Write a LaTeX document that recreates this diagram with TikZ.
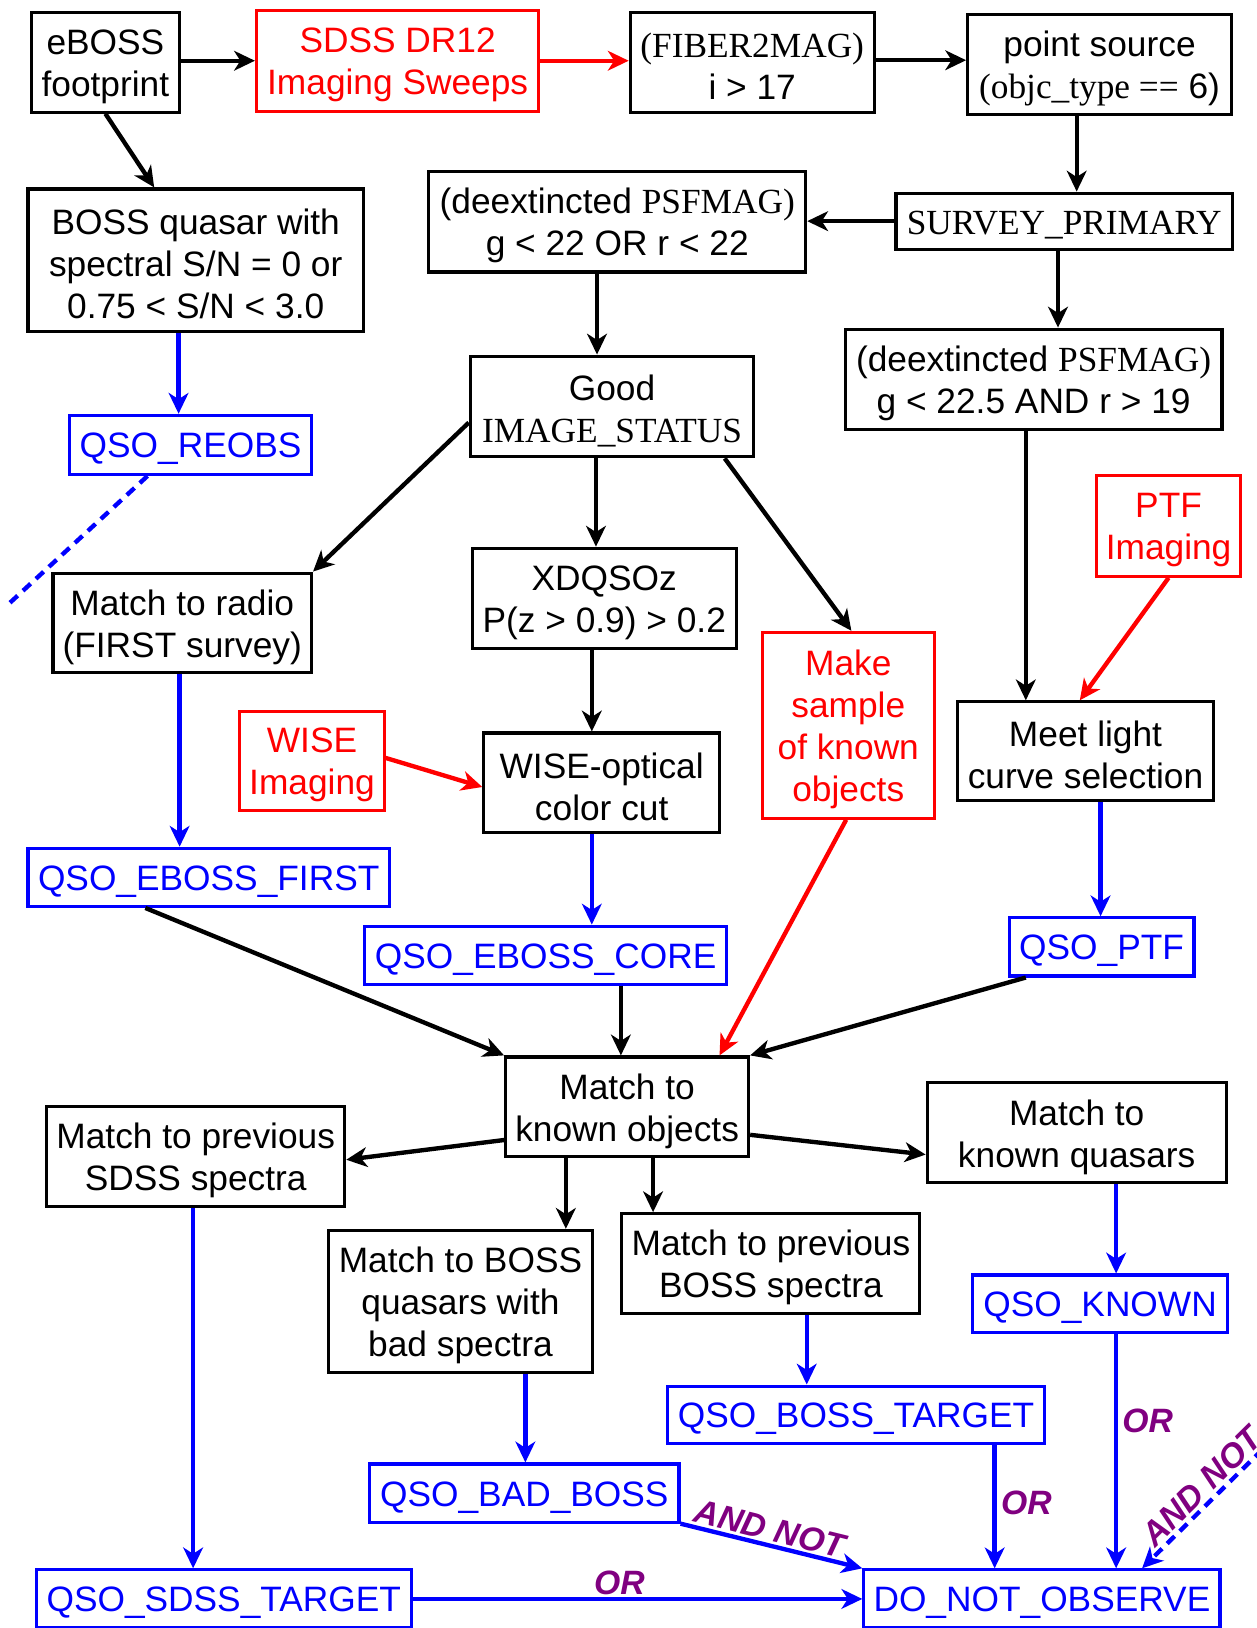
\documentclass[tikz,border=0pt]{standalone}
\usepackage{fontspec}
\setmainfont{Liberation Sans}
\newfontfamily\tm{Liberation Serif}
\usetikzlibrary{arrows.meta}
\definecolor{lblpurple}{RGB}{128,0,128}
\begin{document}
\begin{tikzpicture}[x=1pt,y=-1pt,
  txt/.style={align=center,inner sep=0pt,yshift=-4pt,
    font=\fontsize{34}{40.5}\selectfont},
  bx/.style={draw=black,line width=3pt,inner sep=0pt,
    label={[txt,text=black]center:{#1}}},
  rbx/.style={draw=red,line width=3pt,inner sep=0pt,
    label={[txt,text=red]center:{#1}}},
  bbx/.style={draw=blue,line width=3pt,inner sep=0pt,
    label={[txt,text=blue]center:{#1}}},
  arr/.style={line width=4.2pt,-{Stealth[length=20pt,width=19pt,inset=6pt]}},
  karr/.style={arr,draw=black},
  rarr/.style={arr,draw=red},
  barr/.style={arr,draw=blue},
  dashblue/.style={draw=blue,line width=4.2pt,dash pattern=on 10pt off 7pt},
  lbl/.style={text=lblpurple,font=\fontsize{32.5}{36}\selectfont\bfseries\itshape,inner sep=2pt}
]
\useasboundingbox (0,0) rectangle (1210,1568);

% nodes
\node[bx={eBOSS\\footprint},minimum width=143pt,minimum height=96pt] (eboss) at (101.5,60) {};
\node[rbx={SDSS DR12\\Imaging Sweeps},minimum width=272pt,minimum height=97pt] (sdss) at (383,58.5) {};
\node[bx={{\tm (FIBER2MAG)}\\i > 17},minimum width=235pt,minimum height=96pt] (fiber) at (724.5,60) {};
\node[bx={point source\\{\tm (objc\_type ==} 6)},minimum width=254pt,minimum height=96pt] (point) at (1059,62) {};
\node[bx={BOSS quasar with\\spectral S/N = 0 or\\0.75 < S/N < 3.0},minimum width=323pt,minimum height=137pt] (bossq) at (188.5,250.5) {};
\node[bx={(deextincted {\tm PSFMAG)}\\g < 22 OR r < 22},minimum width=363pt,minimum height=97pt] (deexa) at (594.5,213.5) {};
\node[bx={\tm SURVEY\_PRIMARY},minimum width=324pt,minimum height=54pt] (survey) at (1025,213) {};
\node[bx={Good\\{\tm IMAGE\_STATUS}},minimum width=273pt,minimum height=97pt] (good) at (589.5,391.5) {};
\node[bx={(deextincted {\tm PSFMAG)}\\g < 22.5 AND r > 19},minimum width=363pt,minimum height=97pt] (deexb) at (995.5,365.5) {};
\node[bbx={QSO\_REOBS},minimum width=233pt,minimum height=57pt] (reobs) at (183.5,428.5) {};
\node[bx={Match to radio\\(FIRST survey)},minimum width=249pt,minimum height=96pt] (radio) at (175.5,600) {};
\node[bx={XDQSOz\\P(z > 0.9) > 0.2},minimum width=254pt,minimum height=97pt] (xdqso) at (582,576.5) {};
\node[rbx={PTF\\Imaging},minimum width=139pt,minimum height=97pt] (ptf) at (1125.5,506.5) {};
\node[rbx={Make\\sample\\of known\\objects},minimum width=166pt,minimum height=179pt] (make) at (817,698.5) {};
\node[bx={Meet light\\curve selection},minimum width=247pt,minimum height=95pt] (meet) at (1045.5,723.5) {};
\node[rbx={WISE\\Imaging},minimum width=139pt,minimum height=96pt] (wiseimg) at (300.5,733) {};
\node[bx={WISE-optical\\color cut},minimum width=227pt,minimum height=96pt] (wiseopt) at (579.5,754) {};
\node[bbx={QSO\_EBOSS\_FIRST},minimum width=348pt,minimum height=56pt] (first) at (201,845) {};
\node[bbx={QSO\_EBOSS\_CORE},minimum width=349pt,minimum height=56pt] (core) at (525.5,920) {};
\node[bbx={QSO\_PTF},minimum width=178pt,minimum height=56pt] (qptf) at (1061,912) {};
\node[bx={Match to\\known objects},minimum width=234pt,minimum height=96pt] (mknown) at (604,1066) {};
\node[bx={Match to previous\\SDSS spectra},minimum width=287pt,minimum height=96pt] (msdss) at (188.5,1114) {};
\node[bx={Match to\\known quasars},minimum width=288pt,minimum height=96pt] (mquasar) at (1037,1091) {};
\node[bx={Match to BOSS\\quasars with\\bad spectra},minimum width=255pt,minimum height=137pt] (mbad) at (443.5,1253.5) {};
\node[bx={Match to previous\\BOSS spectra},minimum width=287pt,minimum height=96pt] (mprev) at (742.5,1217) {};
\node[bbx={QSO\_KNOWN},minimum width=245pt,minimum height=55pt] (qknown) at (1059.5,1255.5) {};
\node[bbx={QSO\_BOSS\_TARGET},minimum width=363pt,minimum height=55pt] (qbt) at (824.5,1362.5) {};
\node[bbx={QSO\_BAD\_BOSS},minimum width=298pt,minimum height=56pt] (qbad) at (505,1438) {};
\node[bbx={QSO\_SDSS\_TARGET},minimum width=361pt,minimum height=56pt] (qsdss) at (215.5,1540) {};
\node[bbx={DO\_NOT\_OBSERVE},minimum width=343pt,minimum height=56pt] (dno) at (1003.5,1540) {};

\coordinate (leftout) at (8,582);
\coordinate (rightin) at (1216,1396);

% connectors
\draw[karr] (eboss.east |- sdss.west) -- (sdss.west);
\draw[rarr] (sdss.east) -- (fiber.west |- sdss.east);
\draw[karr] ([yshift=2pt]fiber.east) -- ([yshift=4pt]point.west);
\draw[karr] (eboss.south) -- ([xshift=-40pt]bossq.north);
\draw[karr] ([xshift=-22pt]point.south) -- ([xshift=12pt]survey.north);
\draw[karr] (survey.west) -- (deexa.east |- survey.west);
\draw[karr] ([xshift=-6pt]survey.south) -- ([xshift=23.5pt]deexb.north);
\draw[karr] ([xshift=-19.5pt]deexa.south) -- ([xshift=-14.5pt]good.north);
\draw[barr] ([xshift=-16.5pt]bossq.south) -- ([xshift=-11.5pt]reobs.north);
\draw[dashblue] ([xshift=-41.5pt]reobs.south) -- (leftout);
\draw[karr] ([yshift=-15.5pt]good.west) -- (radio.north east);
\draw[karr] ([xshift=-15.5pt]good.south) -- ([xshift=-8pt]xdqso.north);
\draw[karr] ([xshift=108.5pt]good.south) -- ([xshift=3pt]make.north);
\draw[karr] ([xshift=-7.5pt]deexb.south) -- ([xshift=-57.5pt]meet.north);
\draw[rarr] (ptf.south) -- ([xshift=-5.5pt]meet.north);
\draw[barr] ([xshift=-2.5pt]radio.south) -- ([xshift=-28pt]first.north);
\draw[karr] ([xshift=-12pt]xdqso.south) -- ([xshift=-9.5pt]wiseopt.north);
\draw[rarr] ([yshift=3pt]wiseimg.east) -- ([yshift=-4pt]wiseopt.west);
\draw[barr] ([xshift=-9.5pt]wiseopt.south) -- ([xshift=44.5pt]core.north);
\draw[barr] ([xshift=14.5pt]meet.south) -- ([xshift=-1pt]qptf.north);
\draw[karr] ([xshift=-61pt]first.south) -- (mknown.north west);
\draw[karr] ([xshift=72.5pt]core.south) -- ([xshift=-6pt]mknown.north);
\draw[rarr] ([xshift=-2pt]make.south) -- ([xshift=89pt]mknown.north);
\draw[karr] ([xshift=-73pt]qptf.south) -- (mknown.north east);
\draw[karr] ([yshift=-32pt]mknown.west) -- ([yshift=-3pt]msdss.east);
\draw[karr] ([yshift=-27pt]mknown.east) -- ([yshift=-21pt]mquasar.west);
\draw[karr] ([xshift=-59pt]mknown.south) -- ([xshift=101.5pt]mbad.north);
\draw[karr] ([xshift=25pt]mknown.south) -- ([xshift=-113.5pt]mprev.north);
\draw[barr] ([xshift=38pt]mquasar.south) -- ([xshift=15.5pt]qknown.north);
\draw[barr] ([xshift=34.5pt]mprev.south) -- ([xshift=-47.5pt]qbt.north);
\draw[barr] ([xshift=62.5pt]mbad.south) -- ([xshift=1pt]qbad.north);
\draw[barr] ([xshift=-2.5pt]msdss.south) -- ([xshift=-29.5pt]qsdss.north);
\draw[barr] (qsdss.east) -- node[lbl,above,pos=0.46] {OR} (dno.west);
\draw[barr] (qbad.south east) -- node[lbl,sloped,above,pos=0.47] {AND NOT} (dno.north west);
\draw[barr] ([xshift=133.5pt]qbt.south) -- node[lbl,right,pos=0.47,xshift=2pt] {OR} ([xshift=-45.5pt]dno.north);
\draw[barr] ([xshift=15.5pt]qknown.south) -- node[lbl,right,pos=0.37,xshift=2pt] {OR} ([xshift=71.5pt]dno.north);
\draw[dashblue,-{Stealth[length=20pt,width=19pt,inset=6pt]}] (rightin) -- node[lbl,sloped,above,pos=0.41] {AND NOT} ([xshift=96.5pt]dno.north);
\end{tikzpicture}
\end{document}
